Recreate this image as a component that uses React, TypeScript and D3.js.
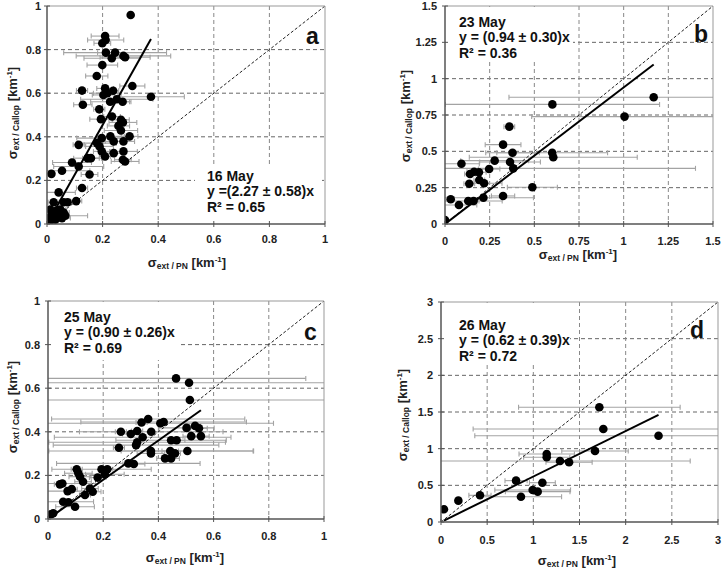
import React from 'react';
import * as d3 from 'd3';

// each row: [sigma_ext PN, sigma_ext Callop, +/- error of PN]  (km-1)
const may16: number[][] = [
  [0.301, 0.959, 0], [0.209, 0.862, 0.05], [0.211, 0.844, 0.065], [0.199, 0.829, 0.03],
  [0.212, 0.786, 0.03], [0.245, 0.786, 0.185], [0.233, 0.76, 0.1], [0.275, 0.771, 0.17],
  [0.281, 0.765, 0.09], [0.199, 0.729, 0.055], [0.179, 0.679, 0.04], [0.126, 0.612, 0.02],
  [0.129, 0.547, 0.033], [0.209, 0.622, 0.03], [0.217, 0.6, 0.05], [0.238, 0.611, 0.02],
  [0.203, 0.592, 0.04], [0.307, 0.633, 0.045], [0.374, 0.584, 0.12], [0.227, 0.561, 0.07],
  [0.251, 0.572, 0.13], [0.272, 0.561, 0.03], [0.188, 0.526, 0.02], [0.194, 0.481, 0.04],
  [0.234, 0.493, 0.03], [0.266, 0.478, 0.03], [0.273, 0.466, 0.05], [0.257, 0.45, 0.04],
  [0.266, 0.429, 0.06], [0.228, 0.402, 0.05], [0.297, 0.402, 0.03], [0.275, 0.379, 0.04],
  [0.24, 0.379, 0.03], [0.197, 0.394, 0.09], [0.18, 0.371, 0.07], [0.114, 0.363, 0.02],
  [0.189, 0.356, 0.05], [0.197, 0.333, 0.03], [0.209, 0.31, 0.02], [0.24, 0.325, 0.04],
  [0.275, 0.333, 0.05], [0.281, 0.287, 0.05], [0.273, 0.295, 0.03], [0.146, 0.302, 0.05],
  [0.158, 0.302, 0.03], [0.09, 0.282, 0.07], [0.114, 0.264, 0.09], [0.153, 0.227, 0.03],
  [0.054, 0.244, 0.1], [0.016, 0.23, 0.01], [0.126, 0.165, 0.02], [0.042, 0.145, 0.06],
  [0.024, 0.1, 0.02], [0.06, 0.1, 0.03], [0.074, 0.1, 0.03], [0.105, 0.105, 0.02],
  [0.01, 0.012, 0.01], [0.014, 0.035, 0.02], [0.024, 0.05, 0.02], [0.036, 0.063, 0.02],
  [0.046, 0.043, 0.03], [0.06, 0.053, 0.02], [0.066, 0.038, 0.08], [0.022, 0.027, 0.02],
  [0.03, 0.02, 0.01], [0.048, 0.066, 0.02], [0.012, 0.066, 0.02], [0.054, 0.027, 0.03],
];

const may23: number[][] = [
  [1.168, 0.872, 0.81], [0.601, 0.823, 0.6], [1.005, 0.739, 0.52], [0.36, 0.67, 0.03],
  [0.325, 0.546, 0.1], [0.378, 0.49, 0.15], [0.6, 0.49, 0.31], [0.606, 0.459, 0.47],
  [0.092, 0.415, 0.1], [0.278, 0.436, 0.19], [0.364, 0.427, 0.17], [0.382, 0.383, 1.02],
  [0.247, 0.378, 0.06], [0.163, 0.36, 0.04], [0.19, 0.356, 0.04], [0.14, 0.344, 0.03],
  [0.192, 0.303, 0.03], [0.219, 0.28, 0.1], [0.136, 0.277, 0.03], [0.489, 0.253, 0.14],
  [0.325, 0.193, 0.065], [0.215, 0.181, 0.28], [0.032, 0.17, 0.02], [0.13, 0.158, 0.19],
  [0.16, 0.158, 0.03], [0.078, 0.131, 0.1], [0, 0.027, 0.01],
];

const may25: number[][] = [
  [0.464, 0.645, 0.47], [0.511, 0.625, 0.55], [0.514, 0.546, 0.6], [0.363, 0.459, 0.35],
  [0.339, 0.443, 0.02], [0.407, 0.439, 0.41], [0.419, 0.445, 0.3], [0.264, 0.4, 0.02],
  [0.3, 0.39, 0.03], [0.323, 0.404, 0.02], [0.343, 0.375, 0.32], [0.374, 0.4, 0.26],
  [0.502, 0.418, 0.1], [0.533, 0.427, 0.02], [0.547, 0.416, 0.03], [0.519, 0.38, 0.03],
  [0.554, 0.38, 0.03], [0.446, 0.361, 0.2], [0.466, 0.361, 0.03], [0.257, 0.327, 0.02],
  [0.319, 0.339, 0.3], [0.323, 0.352, 0.32], [0.373, 0.312, 0.37], [0.373, 0.301, 0.05],
  [0.443, 0.312, 0.03], [0.46, 0.301, 0.02], [0.424, 0.278, 0.03], [0.446, 0.278, 0.03],
  [0.505, 0.312, 0.24], [0.291, 0.255, 0.26], [0.311, 0.252, 0.04], [0.194, 0.228, 0.18],
  [0.215, 0.228, 0.02], [0.18, 0.19, 0.03], [0.206, 0.205, 0.07], [0.104, 0.228, 0.02],
  [0.11, 0.21, 0.05], [0.116, 0.194, 0.04], [0.127, 0.171, 0.03], [0.052, 0.163, 0.12],
  [0.043, 0.159, 0.02], [0.071, 0.128, 0.1], [0.086, 0.137, 0.02], [0.162, 0.125, 0.03],
  [0.152, 0.14, 0.03], [0.134, 0.11, 0.02], [0.055, 0.079, 0.11], [0.074, 0.077, 0.02],
  [0.098, 0.056, 0.07], [0.019, 0.026, 0.01], [0.011, 0.022, 0.01],
];

const may26: number[][] = [
  [1.715, 1.565, 0.875], [1.758, 1.269, 1.41], [2.356, 1.177, 1.99], [1.668, 0.969, 0.36],
  [1.145, 0.928, 0.3], [1.145, 0.882, 0.25], [1.289, 0.832, 1.41], [1.387, 0.814, 0.25],
  [0.813, 0.564, 0.12], [1.098, 0.536, 0.14], [0.993, 0.437, 0.41], [1.047, 0.414, 0.35],
  [0.866, 0.345, 0.44], [0.422, 0.364, 0.12], [0.188, 0.291, 0.02], [0.032, 0.173, 0.02],
];

const dates = ['16 May', '23 May', '25 May', '26 May'];
const letters = ['a', 'b', 'c', 'd'];
const slopes = [2.27, 0.94, 0.9, 0.62];
const slopeErrs = [0.58, 0.3, 0.26, 0.39];
const rSquared = [0.65, 0.36, 0.69, 0.72];
const axisMax = [1, 1.5, 1, 3];
const tickSteps = [0.2, 0.25, 0.2, 0.5];
const series = [may16, may23, may25, may26];

const FONT = '"Liberation Sans", Arial, Helvetica, sans-serif';

// plot areas and label placement for the 2x2 grid
const layouts = [
  { left: 47, top: 6, width: 278, height: 218, yLab: 41, xLab: 243, xTitle: [187, 267], yTitle: [17, 113],
    note: [207, 181], letter: [306, 44], box: [195, 165, 322, 222], eqGap: '=(' },
  { left: 445, top: 6, width: 268, height: 218, yLab: 437, xLab: 245, xTitle: [578, 259], yTitle: [410, 116],
    note: [459, 27], letter: [694, 42], box: [446, 7, 573, 60], eqGap: '= (' },
  { left: 48, top: 301, width: 276, height: 218, yLab: 40, xLab: 540, xTitle: [185, 562], yTitle: [17, 407],
    note: [64, 322], letter: [304, 340], box: [49, 302, 181, 360], eqGap: '= (' },
  { left: 441, top: 302, width: 277, height: 220, yLab: 433, xLab: 544, xTitle: [577, 565], yTitle: [407, 415],
    note: [459, 330], letter: [690, 338], box: [442, 303, 570, 365], eqGap: '= (' },
];

const fmt = (v: number) => String(+v.toFixed(2));

function Panel({ i }: { i: number }) {
  const L = layouts[i];
  const data = series[i];
  const max = axisMax[i];
  const x = d3.scaleLinear().domain([0, max]).range([L.left, L.left + L.width]);
  const y = d3.scaleLinear().domain([0, max]).range([L.top + L.height, L.top]);
  const n = Math.round(max / tickSteps[i]);
  const ticks = d3.range(0, n + 1).map(k => +(k * tickSteps[i]).toFixed(2));
  const inner = ticks.filter(t => t > 0 && t < max);

  const [x0, x1] = d3.extent(data, d => d[0]) as [number, number];
  const line = d3.line<number>().x(v => x(v)).y(v => y(slopes[i] * v));
  const diag = d3.line<number>().x(v => x(v)).y(v => y(v));

  const bottom = L.top + L.height;
  const right = L.left + L.width;
  const clipId = `clip-${i}`;
  const [bx0, by0, bx1, by1] = L.box;

  return (
    <g fontFamily={FONT} fontWeight="bold">
      <defs>
        <clipPath id={clipId}>
          <rect x={L.left} y={L.top} width={L.width} height={L.height} />
        </clipPath>
      </defs>

      {/* grid */}
      {inner.map(t => (
        <line key={'h' + t} x1={L.left} x2={right} y1={y(t)} y2={y(t)}
          stroke="#666" strokeWidth={1} strokeDasharray="4,3" />
      ))}
      {inner.map(t => (
        <line key={'v' + t} x1={x(t)} x2={x(t)} y1={L.top} y2={bottom}
          stroke="#888" strokeWidth={1} strokeDasharray="4,3" />
      ))}
      <rect x={bx0} y={by0} width={bx1 - bx0} height={by1 - by0} fill="#fff" />

      <g clipPath={`url(#${clipId})`}>
        {/* x error bars */}
        {data.filter(d => d[2] > 0).map((d, k) => {
          const a = x(d[0] - d[2]);
          const b = x(d[0] + d[2]);
          const yy = y(d[1]);
          return (
            <g key={'e' + k} stroke="#a3a3a3" strokeWidth={1.1}>
              <line x1={a} x2={b} y1={yy} y2={yy} />
              <line x1={a} x2={a} y1={yy - 2.5} y2={yy + 2.5} />
              <line x1={b} x2={b} y1={yy - 2.5} y2={yy + 2.5} />
            </g>
          );
        })}
        <path d={diag([0, max]) ?? ''} stroke="#222" strokeWidth={1} strokeDasharray="3,2" fill="none" />
        {data.map((d, k) => (
          <circle key={'p' + k} cx={x(d[0])} cy={y(d[1])} r={4.3} fill="#000" />
        ))}
        <path d={line([x0, x1]) ?? ''} stroke="#000" strokeWidth={2} fill="none" />
      </g>

      {/* frame */}
      <line x1={L.left} x2={right} y1={L.top} y2={L.top} stroke="#999" />
      <line x1={right} x2={right} y1={L.top} y2={bottom} stroke="#999" />
      <line x1={L.left} x2={L.left} y1={L.top} y2={bottom} stroke="#555" strokeWidth={1.5} />
      <line x1={L.left} x2={right} y1={bottom} y2={bottom} stroke="#555" strokeWidth={1.5} />

      {/* ticks and labels */}
      {ticks.map(t => (
        <g key={'yt' + t}>
          <line x1={L.left - 3} x2={L.left + 3} y1={y(t)} y2={y(t)} stroke="#555" />
          <text x={L.yLab} y={y(t)} dy="0.36em" textAnchor="end" fontSize={11} fill="#222">{fmt(t)}</text>
        </g>
      ))}
      {ticks.map(t => (
        <g key={'xt' + t}>
          <line x1={x(t)} x2={x(t)} y1={bottom - 3} y2={bottom + 3} stroke="#555" />
          <text x={x(t)} y={L.xLab} textAnchor="middle" fontSize={11} fill="#222">{fmt(t)}</text>
        </g>
      ))}

      {/* axis titles */}
      <text x={L.xTitle[0]} y={L.xTitle[1]} textAnchor="middle" fontSize={13} fill="#222">
        σ<tspan fontSize={8.5} dy={2}>ext / PN</tspan>
        <tspan dy={-2}> [km</tspan>
        <tspan fontSize={8} dy={-5}>-1</tspan>
        <tspan dy={5}>]</tspan>
      </text>
      <text transform={`translate(${L.yTitle[0]},${L.yTitle[1]}) rotate(-90)`} textAnchor="middle"
        fontSize={13} fill="#222">
        σ<tspan fontSize={8.5} dy={2}>ext / Callop</tspan>
        <tspan dy={-2}> [km</tspan>
        <tspan fontSize={8} dy={-5}>-1</tspan>
        <tspan dy={5}>]</tspan>
      </text>

      {/* fit annotation */}
      <text x={L.note[0]} y={L.note[1]} fontSize={14} fill="#111">{dates[i]}</text>
      <text x={L.note[0]} y={L.note[1] + 15.3} fontSize={14} fill="#111">
        {`y ${L.eqGap}${slopes[i].toFixed(2)} ± ${slopeErrs[i].toFixed(2)})x`}
      </text>
      <text x={L.note[0]} y={L.note[1] + 30.6} fontSize={14} fill="#111">
        {`R² = ${rSquared[i].toFixed(2)}`}
      </text>
      <text x={L.letter[0]} y={L.letter[1]} fontSize={23} fill="#111">{letters[i]}</text>
    </g>
  );
}

export default function App() {
  return (
    <svg width={723} height={573} style={{ position: 'absolute', left: 0, top: 0, background: '#fff' }}>
      <rect width={723} height={573} fill="#fff" />
      {[0, 1, 2, 3].map(i => <Panel key={i} i={i} />)}
    </svg>
  );
}
